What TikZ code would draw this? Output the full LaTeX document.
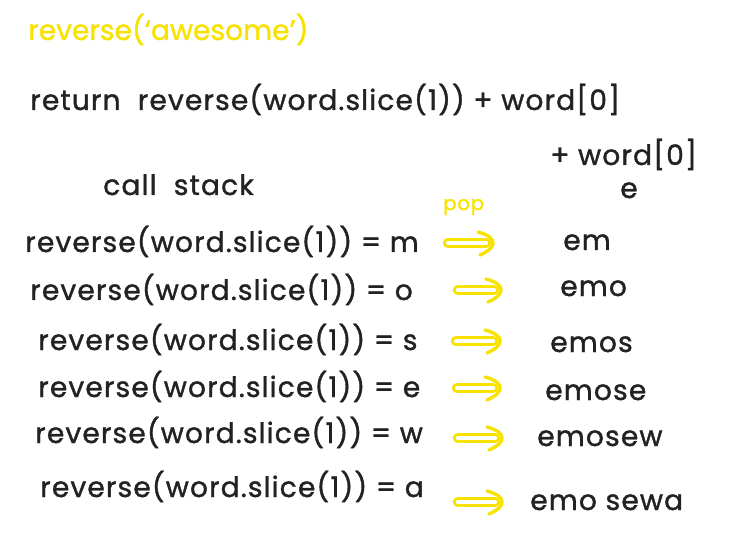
\documentclass[tikz,border=0pt]{standalone}
\usepackage{fontspec}
\setmainfont{Poppins}[FakeBold=1.2]
\newfontfamily\handfont{Poppins}[LetterSpace=4,FakeBold=1.2]
\usepackage{xcolor}
\usetikzlibrary{calc,positioning}
\definecolor{ink}{HTML}{222222}
\definecolor{hilite}{HTML}{F7E200}
\newcommand{\pophead}[1]{%
  \draw[pophead] ($(#1)+(-15,-11)$) .. controls ($(#1)+(-4,-8)$) and ($(#1)+(0,-4)$) .. (#1)
                 .. controls ($(#1)+(0,4)$) and ($(#1)+(-4,8)$) .. ($(#1)+(-13,12)$);}
\begin{document}
\begin{tikzpicture}[x=0.025cm,y=-0.025cm,
    hand/.style={anchor=base west,inner sep=0pt,text=ink,
                 font=\handfont\fontsize{20}{24}\selectfont},
    yellowtext/.style={hand,text=hilite},
    poparrow/.style={draw=hilite,line width=2.2pt,double=white,
                     double distance=3pt,line cap=round,shorten >=5pt},
    pophead/.style={draw=hilite,line width=2.4pt,line cap=round}]
    \useasboundingbox[fill=white](0,0) rectangle (756,537);
    % header lines
    \node[yellowtext,font=\rmfamily\fontsize{20}{24}\selectfont](call) at (28,40){reverse(‘awesome’)};
    \node[hand](ret) at (30,110){return\ \ reverse(word.slice(1)) + word[0]};
    \node[hand](plus) at (550,165){+ word[0]};
    \node[hand](stack) at (103,195){call\ \ stack};
    \node[hand](s0) at (620,198){e};
    \node[yellowtext,font=\handfont\fontsize{14}{16}\selectfont](pop) at (443,210){pop};
    % call stack rows
    \node[hand](r1) at (25,252){reverse(word.slice(1)) = m};
    \node[hand](r2) at (30,300){reverse(word.slice(1)) = o};
    \node[hand](r3) at (38,350){reverse(word.slice(1)) = s};
    \node[hand](r4) at (38,397){reverse(word.slice(1)) = e};
    \node[hand](r5) at (35,443){reverse(word.slice(1)) = w};
    \node[hand](r6) at (40,497){reverse(word.slice(1)) = a};
    % partial results
    \node[hand](s1) at (563,250){em};
    \node[hand](s2) at (560,296){emo};
    \node[hand](s3) at (550,352){emos};
    \node[hand](s4) at (545,400){emose};
    \node[hand](s5) at (537,446){emosew};
    \node[hand](s6) at (530,510){emo sewa};
    % pop arrows
    \coordinate (p1) at (448,243); \coordinate (q1) at (493,243);
    \coordinate (p2) at (458,290); \coordinate (q2) at (501,290);
    \coordinate (p3) at (456,341); \coordinate (q3) at (500,341);
    \coordinate (p4) at (457,388); \coordinate (q4) at (500,388);
    \coordinate (p5) at (458,438); \coordinate (q5) at (502,438);
    \coordinate (p6) at (458,502); \coordinate (q6) at (502,502);
    \draw[poparrow](p1)--(q1); \pophead{q1}
    \draw[poparrow](p2)--(q2); \pophead{q2}
    \draw[poparrow](p3)--(q3); \pophead{q3}
    \draw[poparrow](p4)--(q4); \pophead{q4}
    \draw[poparrow](p5)--(q5); \pophead{q5}
    \draw[poparrow](p6)--(q6); \pophead{q6}
\end{tikzpicture}
\end{document}
